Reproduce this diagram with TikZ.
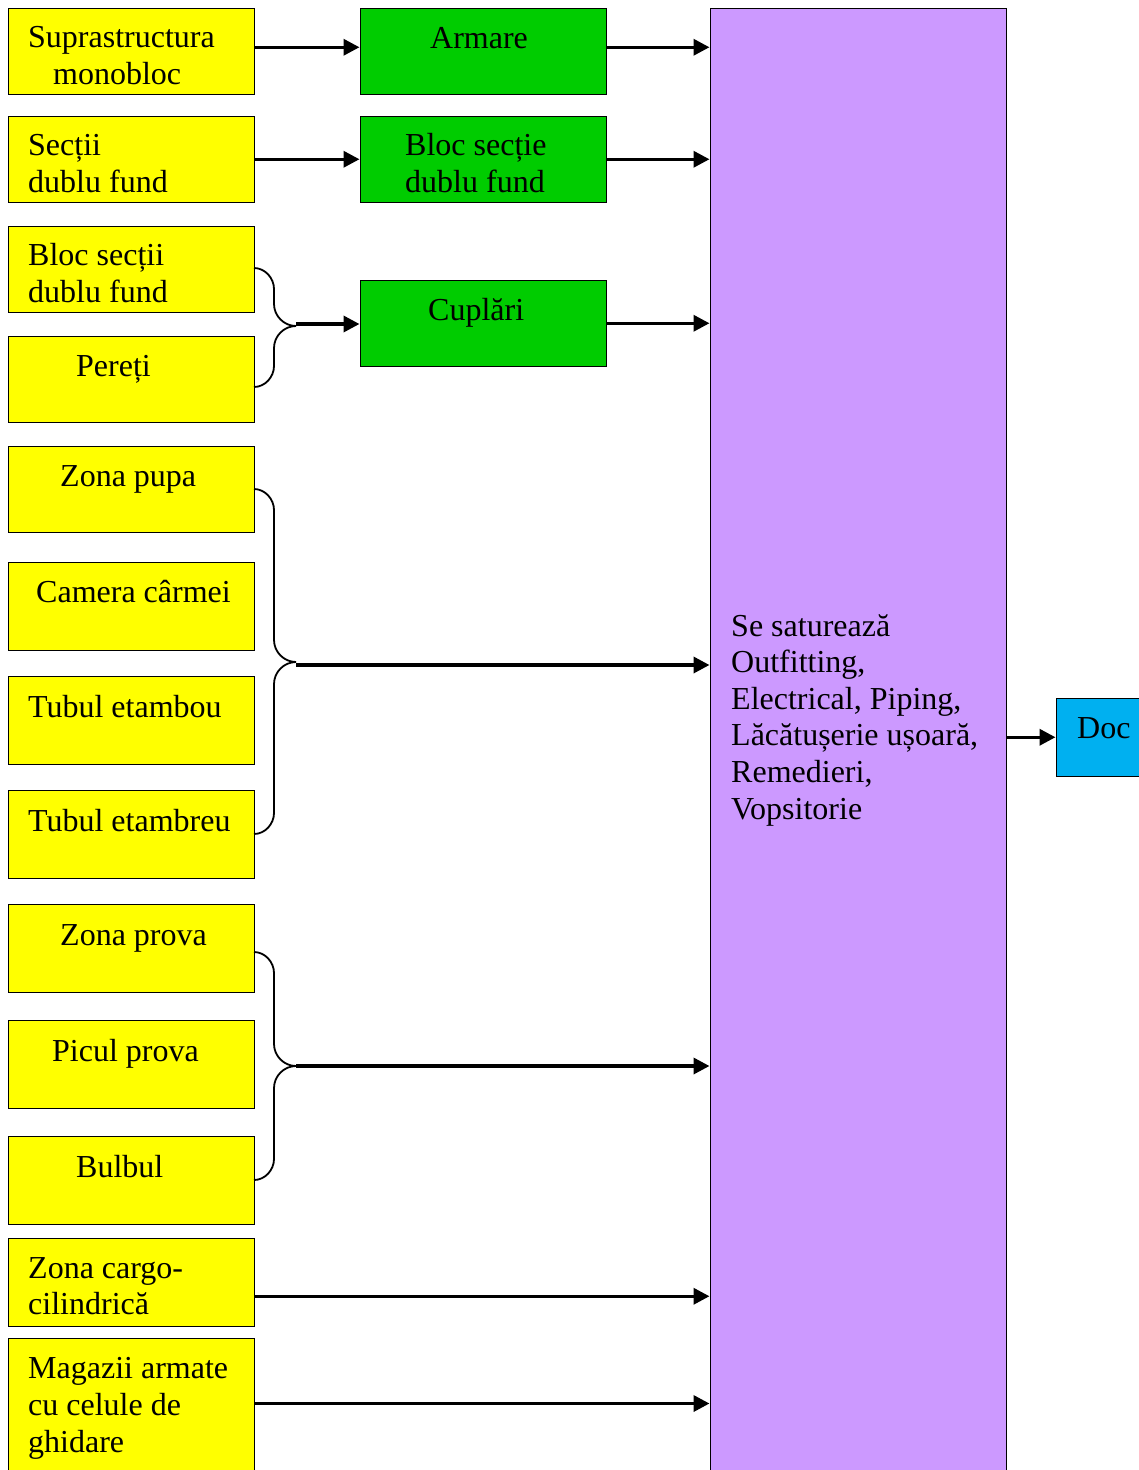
\documentclass[tikz,border=0pt]{standalone}
\usepackage{fontspec}
\setmainfont{Liberation Serif}
\usetikzlibrary{arrows.meta}
\definecolor{boxyellow}{HTML}{FFFF00}
\definecolor{boxgreen}{HTML}{00CC00}
\definecolor{boxpurple}{HTML}{CC99FF}
\definecolor{boxblue}{HTML}{00B0F0}
\newcommand{\lines}[1]{\begin{tabular}[t]{@{}l@{}}#1\end{tabular}}
% brace from (254,#1) to (254,#3) with its tip at (296,#2)
\newcommand{\bracepath}[3]{%
  (254,#1) .. controls (265,#1) and (274,{#1+10}) .. (274,{#1+21})
  -- (274,{#2-22}) .. controls (274,{#2-10}) and (284,#2) .. (296,#2)
  (254,#3) .. controls (265,#3) and (274,{#3-10}) .. (274,{#3-21})
  -- (274,{#2+22}) .. controls (274,{#2+10}) and (284,#2) .. (296,#2)}

\begin{document}
\begin{tikzpicture}[x=1pt,y=-1pt,
  box/.style={draw=black, line width=1.5pt, rectangle, inner sep=0pt, anchor=north west,
              minimum width=246pt},
  ybox/.style={box, fill=boxyellow},
  gbox/.style={box, fill=boxgreen},
  lbl/.style={anchor=base west, inner sep=0pt, font=\fontsize{32}{37}\selectfont},
  arr/.style={line width=3.5pt, -{Triangle[length=16pt,width=16pt]}},
  brace/.style={line width=1.8pt, line join=round}]

\fill[white] (0,0) rectangle (1139,1470);
\path[use as bounding box, clip] (0,0) rectangle (1139,1470);

% left column: sub-assemblies
\node[ybox, minimum height=86pt] (y1)  at (7.5,7.5) {};
\node[ybox, minimum height=86pt] (y2)  at (7.5,115.5) {};
\node[ybox, minimum height=86pt] (y3)  at (7.5,225.5) {};
\node[ybox, minimum height=86pt] (y4)  at (7.5,335.5) {};
\node[ybox, minimum height=86pt] (y5)  at (7.5,445.5) {};
\node[ybox, minimum height=88pt] (y6)  at (7.5,561.5) {};
\node[ybox, minimum height=88pt] (y7)  at (7.5,675.5) {};
\node[ybox, minimum height=88pt] (y8)  at (7.5,789.5) {};
\node[ybox, minimum height=88pt] (y9)  at (7.5,903.5) {};
\node[ybox, minimum height=88pt] (y10) at (7.5,1019.5) {};
\node[ybox, minimum height=88pt] (y11) at (7.5,1135.5) {};
\node[ybox, minimum height=88pt] (y12) at (7.5,1237.5) {};
\node[ybox, minimum height=200pt] (y13) at (7.5,1337.5) {};

\node[lbl] (t1)  at (28,47)   {\lines{Suprastructura\\\hspace{25pt}monobloc}};
\node[lbl] (t2)  at (28,155)  {\lines{Secții\\dublu fund}};
\node[lbl] (t3)  at (28,265)  {\lines{Bloc secții\\dublu fund}};
\node[lbl] (t4)  at (76,376)  {Pereți};
\node[lbl] (t5)  at (60,486)  {Zona pupa};
\node[lbl] (t6)  at (36,602)  {Camera cârmei};
\node[lbl] (t7)  at (28,717)  {Tubul etambou};
\node[lbl] (t8)  at (28,831)  {Tubul etambreu};
\node[lbl] (t9)  at (60,945)  {Zona prova};
\node[lbl] (t10) at (52,1061) {Picul prova};
\node[lbl] (t11) at (76,1177) {Bulbul};
\node[lbl, font=\fontsize{32}{36}\selectfont] (t12) at (28,1278) {\lines{Zona cargo-\\cilindrică}};
\node[lbl] (t13) at (28,1378) {\lines{Magazii armate\\cu celule de\\ghidare}};

% middle column: intermediate operations
\node[gbox, minimum height=86pt] (g1) at (359.5,7.5) {};
\node[gbox, minimum height=86pt] (g2) at (359.5,115.5) {};
\node[gbox, minimum height=86pt] (g3) at (359.5,279.5) {};
\node[lbl] (s1) at (430,48)  {Armare};
\node[lbl] (s2) at (405,155) {\lines{Bloc secție\\dublu fund}};
\node[lbl] (s3) at (428,320) {Cuplări};

% outfitting block and dock
\node[box, fill=boxpurple, minimum width=296pt, minimum height=1500pt] (p) at (709.5,7.5) {};
\node[lbl, font=\fontsize{32}{36.6}\selectfont] (pt) at (731,636)
  {\lines{Se saturează\\Outfitting,\\Electrical, Piping,\\Lăcătușerie ușoară,\\Remedieri,\\Vopsitorie}};
\node[box, fill=boxblue, minimum width=120pt, minimum height=78pt] (doc) at (1055.5,697.5) {};
\node[lbl] (dt) at (1077,738) {Doc};

% braces grouping several sub-assemblies
\coordinate (b1) at (296,326);
\coordinate (b2) at (296,662);
\coordinate (b3) at (296,1066);
\draw[brace] \bracepath{268}{326}{387};
\draw[brace] \bracepath{489}{662}{834};
\draw[brace] \bracepath{952}{1066}{1180};

% connectors
\draw[arr] ([yshift=4pt]y1.east) -- ([yshift=4pt]g1.west);
\draw[arr] ([yshift=4pt]g1.east) -- ([yshift=4pt]g1.east -| p.west);
\draw[arr] (y2.east) -- (g2.west);
\draw[arr] (g2.east) -- (g2.east -| p.west);
\draw[arr] ([yshift=2pt]b1) -- ([yshift=2pt]b1 -| g3.west);
\draw[arr] (g3.east) -- (g3.east -| p.west);
\draw[arr] ([yshift=-3pt]b2) -- ([yshift=-3pt]b2 -| p.west);
\draw[arr] (b3) -- (b3 -| p.west);
\draw[arr] ([yshift=-14pt]y12.east) -- ([yshift=-14pt]y12.east -| p.west);
\draw[arr] ([yshift=-66pt]y13.north east) -- ([yshift=-66pt]y13.north east -| p.west);
\draw[arr] (doc.west -| p.east) -- (doc.west);
\end{tikzpicture}
\end{document}
